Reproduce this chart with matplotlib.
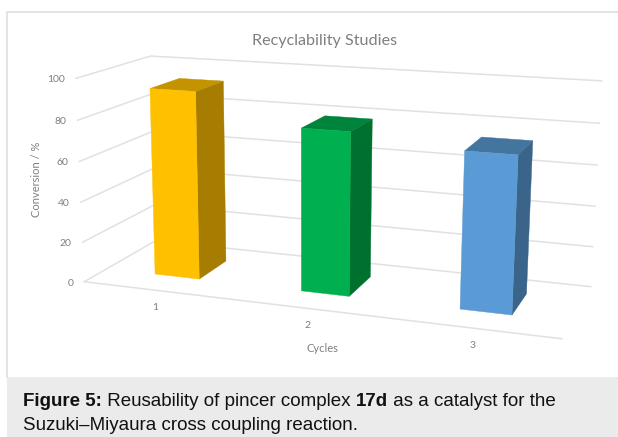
import numpy as np
import matplotlib
matplotlib.use('Agg')
import matplotlib.pyplot as plt
from matplotlib.patches import Polygon, Rectangle

# data
cycles = ['1', '2', '3']
conversion = [93, 79, 74]
levels = [0, 20, 40, 60, 80, 100]

face_colors = ['#FFC000', '#00B050', '#5B9BD5']
top_colors = ['#C49400', '#00843C', '#44759F']
side_colors = ['#A67D00', '#00702F', '#3A6489']

grid_col = '#e1e1e1'
text_col = '#7f7f7f'
label_font = 'Lato'

# where the chart box corners land in the picture (x, level, depth) -> pixel
anchors = [
    (0, 0, 0, 86, 281), (0, 20, 0, 83, 242), (0, 40, 0, 81, 202),
    (0, 60, 0, 79, 161), (0, 80, 0, 77, 120), (0, 100, 0, 75, 79),
    (0, 0, 1, 155, 241), (0, 20, 1, 154, 205), (0, 40, 1, 153, 169),
    (0, 60, 1, 152, 132), (0, 80, 1, 152, 94), (0, 100, 1, 153, 55),
    (1, 0, 1, 591, 286), (1, 20, 1, 593, 246), (1, 40, 1, 595, 206),
    (1, 60, 1, 597, 165), (1, 80, 1, 599, 123.5), (1, 100, 1, 601.5, 81),
    (1, 0, 0, 562, 340),
]

# fit a 3x4 projection to the anchors
rows = []
for x, y, z, px, py in anchors:
    rows.append([x, y, z, 1, 0, 0, 0, 0, -px * x, -px * y, -px * z, -px])
    rows.append([0, 0, 0, 0, x, y, z, 1, -py * x, -py * y, -py * z, -py])
P = np.linalg.svd(np.array(rows, dtype=float))[2][-1].reshape(3, 4)


def proj(x, y, z):
    q = P @ np.array([x, y, z, 1.0])
    return q[0] / q[2], q[1] / q[2]


fig = plt.figure(figsize=(6.18, 4.37), dpi=100)
ax = fig.add_axes([0, 0, 1, 1])
ax.set_xlim(0, 618)
ax.set_ylim(437, 0)
ax.axis('off')

# frame and caption band
ax.plot([7, 7, 618], [377, 12, 12], color='#dedede', lw=1.2)
ax.add_patch(Rectangle((7, 377), 611, 60, fc='#ebebeb', ec='none'))

# walls
for lev in levels:
    a, b, c = proj(0, lev, 0), proj(0, lev, 1), proj(1, lev, 1)
    ax.plot([a[0], b[0], c[0]], [a[1], b[1], c[1]], color=grid_col, lw=1.1, zorder=1)
    ax.text(a[0] - 11, a[1] + 1.5, str(lev), ha='right', va='center', fontsize=7.5,
            color=text_col, family=label_font)

# floor front edge
a, b = proj(0, 0, 0), proj(1, 0, 0)
ax.plot([a[0], b[0]], [a[1], b[1]], color=grid_col, lw=1.1, zorder=1)

# bars
n = len(cycles)
bar_w = 0.31 / n
z0, z1 = 0.3, 0.72
for i in range(n):
    x0 = (i + 0.5) / n - bar_w / 2
    x1 = x0 + bar_w
    v = conversion[i]
    front = [proj(x0, 0, z0), proj(x1, 0, z0), proj(x1, v, z0), proj(x0, v, z0)]
    side = [proj(x1, 0, z0), proj(x1, 0, z1), proj(x1, v, z1), proj(x1, v, z0)]
    top = [proj(x0, v, z0), proj(x1, v, z0), proj(x1, v, z1), proj(x0, v, z1)]
    ax.add_patch(Polygon(side, fc=side_colors[i], ec=side_colors[i], lw=0.3, zorder=3))
    ax.add_patch(Polygon(top, fc=top_colors[i], ec=top_colors[i], lw=0.3, zorder=3))
    ax.add_patch(Polygon(front, fc=face_colors[i], ec=face_colors[i], lw=0.3, zorder=4))

# category labels
for i, c in enumerate(cycles):
    p = proj((i + 0.5) / n, 0, 0)
    ax.text(p[0] - 1, p[1] + 17, c, ha='center', va='center', fontsize=7.5,
            color=text_col, family=label_font)

ax.text(325, 41, 'Recyclability Studies', ha='center', va='center', fontsize=11.6,
        color=text_col, family=label_font)
ax.text(36, 179, 'Conversion / %', ha='center', va='center', rotation=90, fontsize=8,
        color=text_col, family=label_font)
ax.text(322, 349, 'Cycles', ha='center', va='center', fontsize=8,
        color=text_col, family=label_font)

# caption, bold and regular runs one after the other
runs = [('Figure 5:', 'bold'), (' Reusability of pincer complex ', 'normal'),
        ('17d', 'bold'), (' as a catalyst for the', 'normal')]
renderer = fig.canvas.get_renderer()
cap_x = 23
for s, w in runs:
    t = ax.text(cap_x, 401, s.replace(' ', '\u00a0'), fontsize=13.48, fontweight=w,
                family='Liberation Sans', color='#111111', ha='left', va='center')
    cap_x = ax.transData.inverted().transform(t.get_window_extent(renderer))[1, 0]
ax.text(23, 425, 'Suzuki\u2013Miyaura cross coupling reaction.', fontsize=13.48,
        family='Liberation Sans', color='#111111', ha='left', va='center')

fig.savefig('out.png', dpi=100)
